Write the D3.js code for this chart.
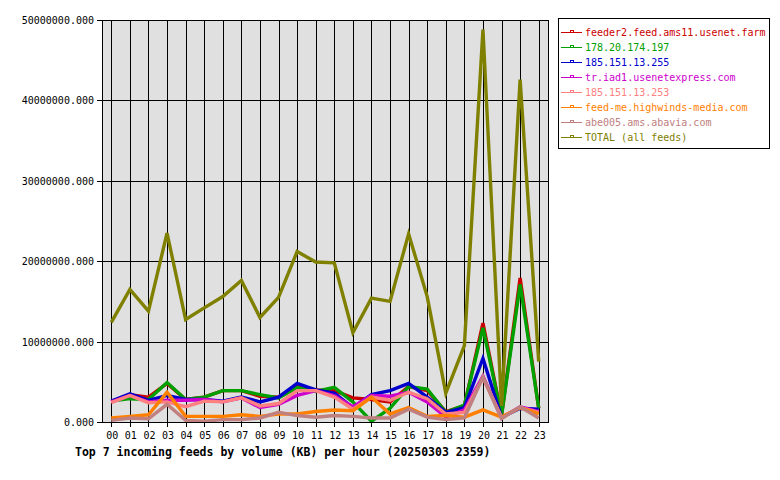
<!DOCTYPE html>
<html>
<head>
<meta charset="utf-8">
<script src="https://cdn.jsdelivr.net/npm/d3@7"></script>
<style>
  body { margin: 0; background: #fff; }
  text { font-family: "DejaVu Sans Mono", monospace; }
</style>
</head>
<body>
<div id="chart"></div>
<script>
// hours on the x axis
var hours = ["00","01","02","03","04","05","06","07","08","09","10","11",
             "12","13","14","15","16","17","18","19","20","21","22","23"];

// feed names (legend order)
var feedNames = ["feeder2.feed.ams11.usenet.farm", "178.20.174.197", "185.151.13.255",
                 "tr.iad1.usenetexpress.com", "185.151.13.253", "feed-me.highwinds-media.com",
                 "abe005.ams.abavia.com", "TOTAL (all feeds)"];
var feedColors = ["#cc0000", "#00a000", "#0000cc", "#cc00cc", "#ff8080", "#ff8000", "#c08080", "#808000"];

// KB per hour, in millions
var feeder2 = [2.5,3.4,3.1,4.8,2.8,3.1,3.9,3.9,3.2,3.1,4.5,4.0,3.9,3.0,2.8,2.5,4.4,3.9,1.3,2.0,12.3,0.8,17.9,1.7];
var ip178   = [2.6,2.9,2.8,4.9,2.8,3.1,3.9,3.9,3.4,3.0,4.3,3.8,4.3,2.5,0.1,1.7,4.4,4.1,1.2,2.1,11.7,0.8,17.1,1.7];
var ip255   = [2.6,3.5,2.7,3.3,2.8,2.8,2.6,3.1,2.5,3.1,4.8,4.0,3.6,1.8,3.4,3.9,4.8,3.1,1.2,1.8,7.9,0.6,1.7,1.6];
var iad1    = [2.5,3.3,2.5,2.7,2.7,2.8,2.5,3.0,1.8,2.2,3.3,3.9,3.3,1.9,3.3,3.2,3.7,2.5,0.6,1.5,5.7,0.5,1.9,1.3];
var ip253   = [2.4,3.3,2.4,2.5,1.9,2.6,2.5,3.0,2.0,2.3,3.9,3.9,3.1,1.6,3.1,2.7,3.7,2.9,1.0,1.2,5.5,0.6,1.8,1.2];
var feedme  = [0.5,0.7,0.9,3.7,0.7,0.7,0.7,0.9,0.7,1.0,1.0,1.3,1.5,1.4,3.1,1.0,1.8,0.7,0.8,0.6,1.5,0.6,1.8,1.0];
var abe005  = [0.2,0.5,0.4,2.2,0.2,0.1,0.3,0.3,0.5,1.2,0.8,0.6,0.8,0.7,0.5,0.5,1.6,0.6,0.3,0.5,5.6,0.4,1.9,0.5];
var total   = [12.4,16.5,13.8,23.5,12.75,14.2,15.6,17.6,13.0,15.5,21.2,19.9,19.8,11.1,15.4,15.0,23.4,15.6,3.6,9.5,48.8,2.0,42.6,7.5];

var yTicks = [0, 10, 20, 30, 40, 50];
var titleText = "Top 7 incoming feeds by volume (KB) per hour (20250303 2359)";

var draw_chart = function(){
    var series = [feeder2, ip178, ip255, iad1, ip253, feedme, abe005, total];

    var W = 780, H = 480;
    var pLeft = 102, pRight = 548, pTop = 20, pBottom = 422;

    var svg = d3.select("#chart").append("svg")
        .attr("width", W)
        .attr("height", H);

    var x = d3.scalePoint().domain(hours).range([pLeft, pRight]).padding(0.5);
    var y = d3.scaleLinear().domain([0, 50]).range([pBottom, pTop]);

    // plot background
    svg.append("rect")
        .attr("x", pLeft).attr("y", pTop)
        .attr("width", pRight - pLeft).attr("height", pBottom - pTop)
        .attr("fill", "#e0e0e0");

    // vertical grid + ticks below
    svg.append("g").selectAll("line")
        .data(hours).enter().append("line")
        .attr("x1", d => Math.round(x(d)) + 0.5).attr("x2", d => Math.round(x(d)) + 0.5)
        .attr("y1", pTop).attr("y2", pBottom + 5)
        .attr("stroke", "#000").attr("shape-rendering", "crispEdges");

    // horizontal grid + ticks left
    svg.append("g").selectAll("line")
        .data(yTicks).enter().append("line")
        .attr("x1", pLeft - 5).attr("x2", pRight)
        .attr("y1", d => Math.round(y(d)) + 0.5).attr("y2", d => Math.round(y(d)) + 0.5)
        .attr("stroke", "#000").attr("shape-rendering", "crispEdges");

    // y labels
    svg.append("g").selectAll("text")
        .data(yTicks).enter().append("text")
        .attr("x", 94).attr("y", d => y(d) + 4)
        .attr("text-anchor", "end")
        .attr("font-size", "10px")
        .text(d => d3.format(".3f")(d * 1e6));

    // x labels
    svg.append("g").selectAll("text")
        .data(hours).enter().append("text")
        .attr("x", d => x(d) + 1).attr("y", 439)
        .attr("text-anchor", "middle")
        .attr("font-size", "10px")
        .text(d => d);

    // data lines
    var line = d3.line()
        .x((d, i) => x(hours[i]))
        .y(d => y(d));

    svg.append("g").selectAll("path")
        .data(series).enter().append("path")
        .attr("d", d => line(d))
        .attr("fill", "none")
        .attr("stroke", (d, i) => feedColors[i])
        .attr("stroke-width", 3.4)
        .attr("stroke-linejoin", "miter");

    // plot border
    svg.append("rect")
        .attr("x", pLeft + 0.5).attr("y", pTop + 0.5)
        .attr("width", pRight - pLeft).attr("height", pBottom - pTop)
        .attr("fill", "none").attr("stroke", "#000")
        .attr("shape-rendering", "crispEdges");

    // title
    svg.append("text")
        .attr("x", 75).attr("y", 456)
        .attr("font-size", "11.5px")
        .attr("font-weight", "bold")
        .text(titleText);

    // legend
    var lg = svg.append("g");
    lg.append("rect")
        .attr("x", 558.5).attr("y", 18.5)
        .attr("width", 211).attr("height", 130)
        .attr("fill", "#fff").attr("stroke", "#000")
        .attr("shape-rendering", "crispEdges");

    var items = lg.selectAll("g.item")
        .data(feedNames).enter().append("g")
        .attr("class", "item")
        .attr("transform", (d, i) => "translate(0," + (32 + i * 15) + ")");

    // sample line: a 1px filled strip so the colour stays solid
    items.append("rect")
        .attr("x", 561).attr("y", 0)
        .attr("width", 21).attr("height", 1)
        .attr("fill", (d, i) => feedColors[i]);

    // small marker on the sample line
    items.append("rect")
        .attr("x", 570).attr("y", -2)
        .attr("width", 4).attr("height", 1)
        .attr("fill", (d, i) => feedColors[i]);
    items.append("rect")
        .attr("x", 570).attr("y", -2)
        .attr("width", 1).attr("height", 2)
        .attr("fill", (d, i) => feedColors[i]);
    items.append("rect")
        .attr("x", 573).attr("y", -2)
        .attr("width", 1).attr("height", 2)
        .attr("fill", (d, i) => feedColors[i]);

    items.append("text")
        .attr("x", 585).attr("y", 4)
        .attr("font-size", "10px")
        .attr("fill", (d, i) => feedColors[i])
        .text(d => d);
};

draw_chart();
</script>
</body>
</html>
